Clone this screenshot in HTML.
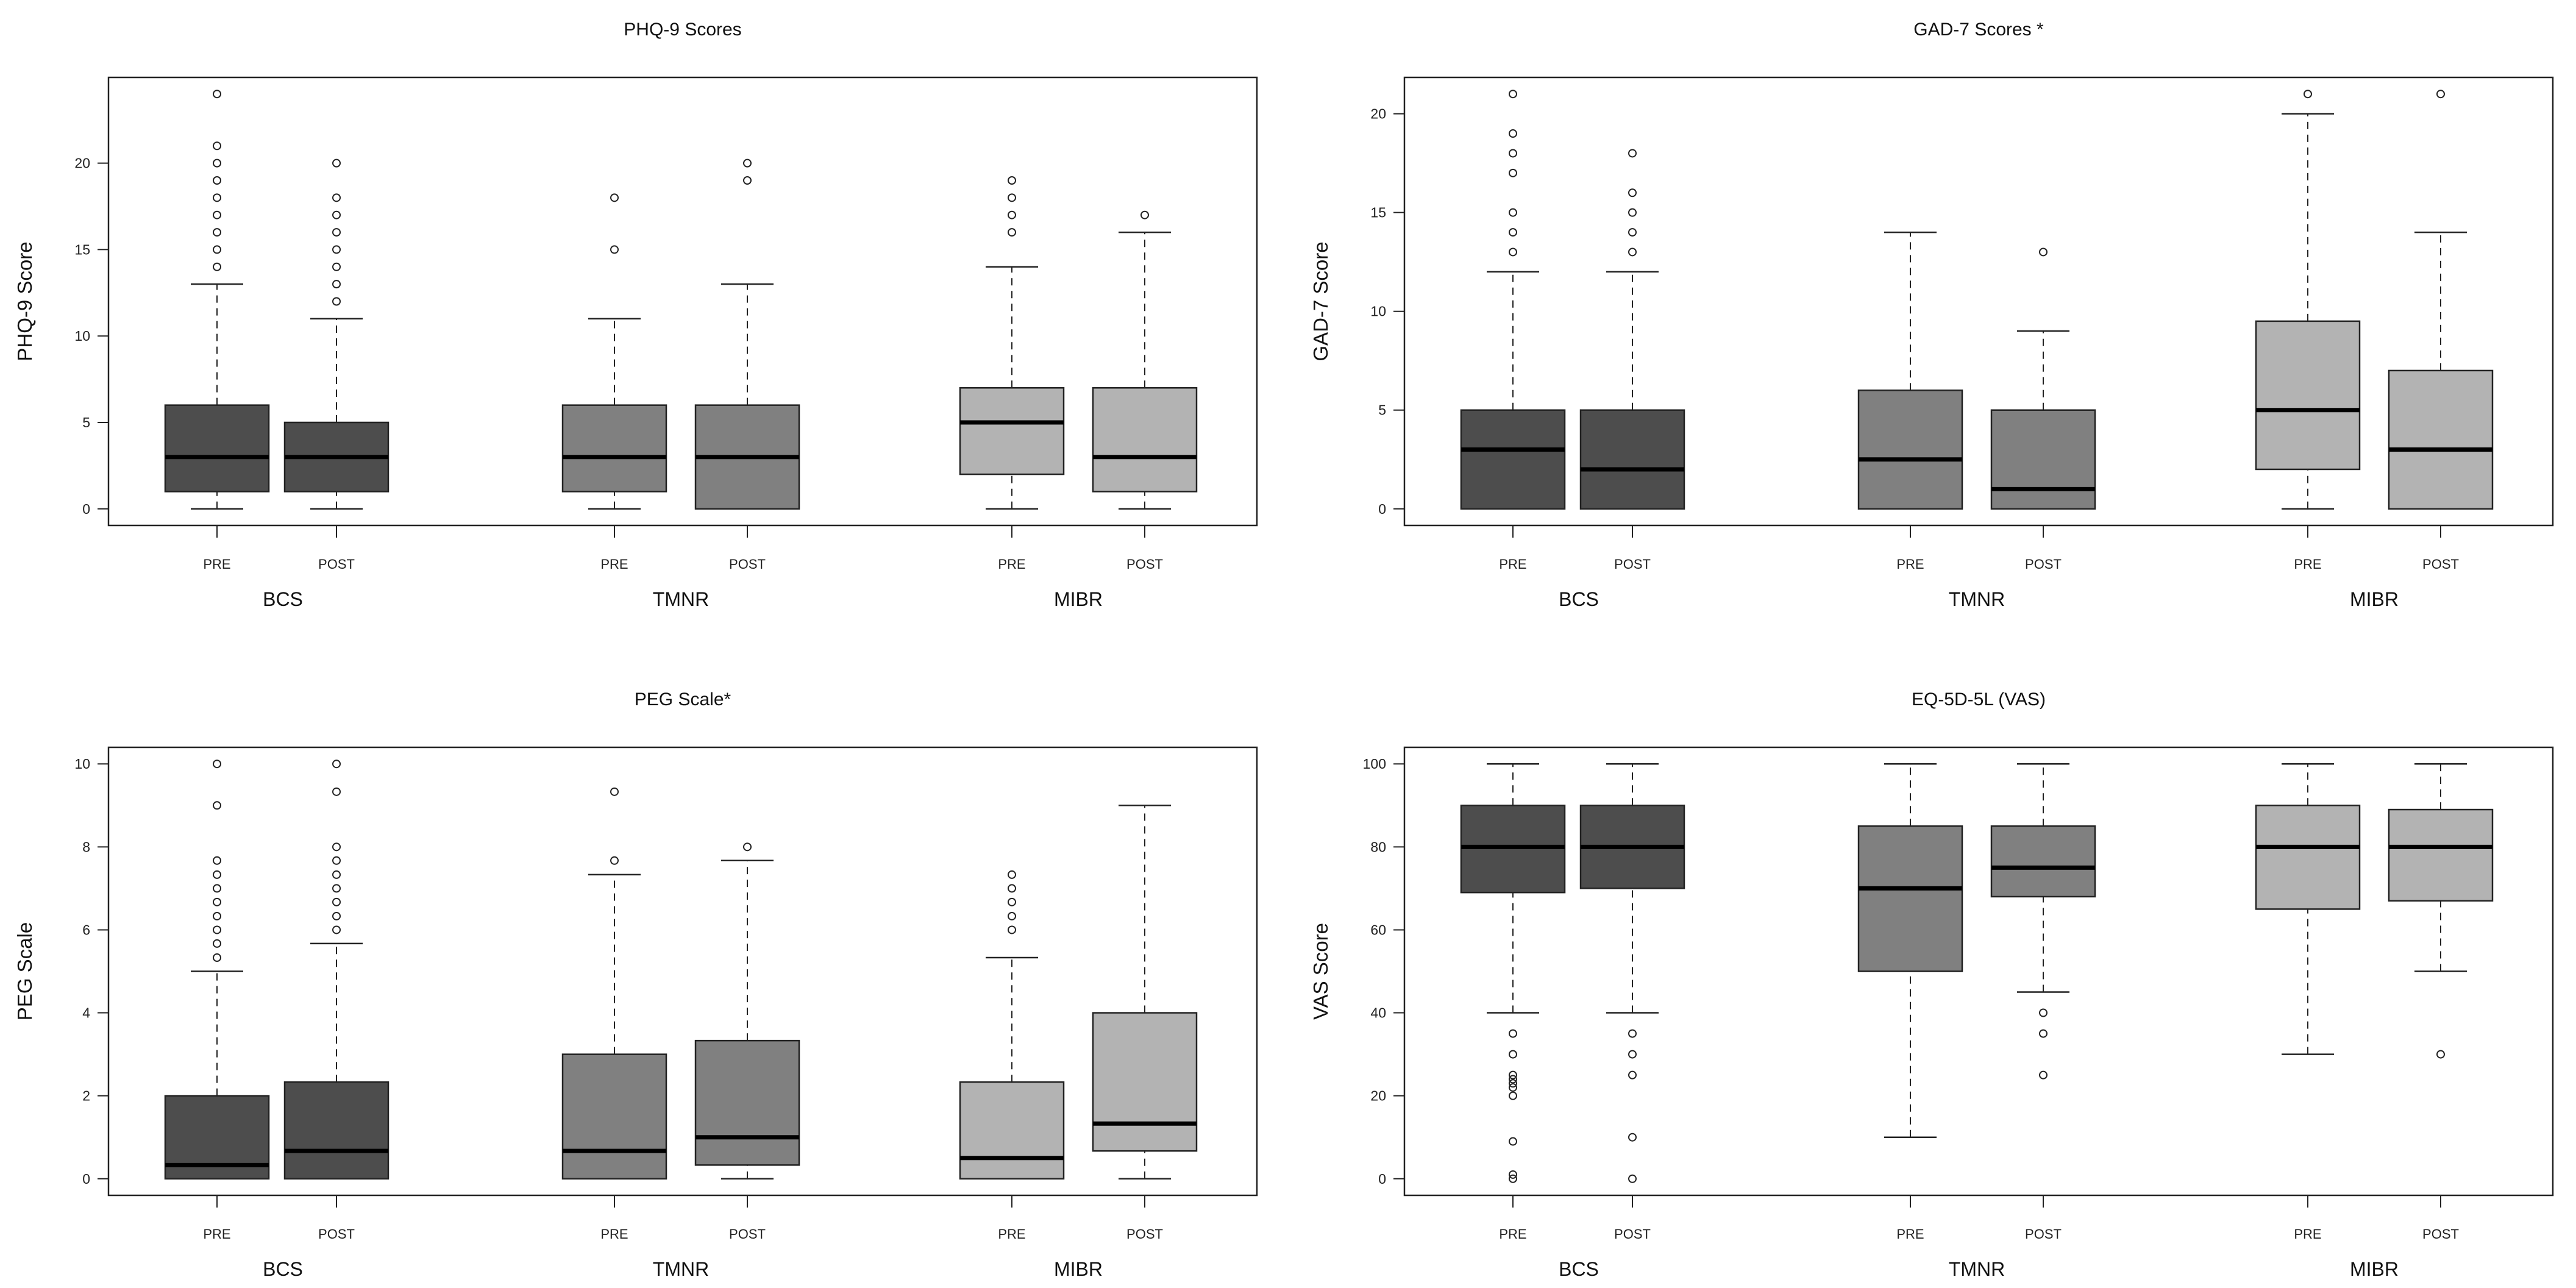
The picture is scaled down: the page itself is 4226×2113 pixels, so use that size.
<!DOCTYPE html>
<html><head><meta charset="utf-8"><style>
html,body{margin:0;padding:0;background:#fff;}
svg{display:block;font-family:"Liberation Sans",sans-serif;}
</style></head><body>
<svg id="chart" width="4226" height="2113" viewBox="0 0 4226 2113" xmlns="http://www.w3.org/2000/svg"></svg>
<script>
const panelTitles = ["PHQ-9 Scores","GAD-7 Scores *","PEG Scale*","EQ-5D-5L (VAS)"];
const yTitles = ["PHQ-9 Score","GAD-7 Score","PEG Scale","VAS Score"];
const groups = ["BCS","TMNR","MIBR"];
const phases = ["PRE","POST"];
const yMins = [0,0,0,0];
const yMaxs = [24,21,10,100];
const yTicks = [[0,5,10,15,20],[0,5,10,15,20],[0,2,4,6,8,10],[0,20,40,60,80,100]];
// each stat: [lowWhisker, q1, median, q3, highWhisker]
const phqStats = [[0,1,3,6,13],[0,1,3,5,11],[0,1,3,6,11],[0,0,3,6,13],[0,2,5,7,14],[0,1,3,7,16]];
const phqOut = [[14,15,16,17,18,19,20,21,24],[12,13,14,15,16,17,18,20],[15,18],[19,20],[16,17,18,19],[17]];
const gadStats = [[0,0,3,5,12],[0,0,2,5,12],[0,0,2.5,6,14],[0,0,1,5,9],[0,2,5,9.5,20],[0,0,3,7,14]];
const gadOut = [[13,14,15,17,18,19,21],[13,14,15,16,18],[],[13],[21],[21]];
const pegStats = [[0,0,0.33,2,5],[0,0,0.67,2.33,5.67],[0,0,0.67,3,7.33],[0,0.33,1,3.33,7.67],[0,0,0.5,2.33,5.33],[0,0.67,1.33,4,9]];
const pegOut = [[5.33,5.67,6,6.33,6.67,7,7.33,7.67,9,10],[6,6.33,6.67,7,7.33,7.67,8,9.33,10],[7.67,9.33],[8],[6,6.33,6.67,7,7.33],[]];
const vasStats = [[40,69,80,90,100],[40,70,80,90,100],[10,50,70,85,100],[45,68,75,85,100],[30,65,80,90,100],[50,67,80,89,100]];
const vasOut = [[35,30,25,24,23,22,20,9,1,0],[35,30,25,10,0],[],[40,35,25],[],[30]];
const allStats = [phqStats,gadStats,pegStats,vasStats];
const allOut = [phqOut,gadOut,pegOut,vasOut];
const fills = ["#4d4d4d","#4d4d4d","#808080","#808080","#b3b3b3","#b3b3b3"];

const NS = "http://www.w3.org/2000/svg";
const svg = document.getElementById("chart");
function mk(tag, attrs, parent, text){
  const e = document.createElementNS(NS, tag);
  for (const k in attrs) e.setAttribute(k, attrs[k]);
  if (text !== undefined) e.textContent = text;
  parent.appendChild(e);
  return e;
}
const offX = [0,2126,0,2126];
const offY = [0,0,1099,1099];
const FL=178, FR=2062, FT=127, FB=862;
const boxX = [178,374,830,1048,1482,1700];
const groupX = [286,939,1591];
const HW=85, CAP=43;

for (let p=0;p<4;p++){
  const g = mk("g",{transform:`translate(${offX[p]},${offY[p]})`},svg);
  
  
  const lo=yMins[p], hi=yMaxs[p];
  const span=hi-lo, dlo=lo-0.04*span, dhi=hi+0.04*span;
  const y = v => FB - (v-dlo)/(dhi-dlo)*(FB-FT);
  const X = x => FL + x;
  const t = mk("text",{x:(FL+FR)/2,y:58,"font-size":30,"text-anchor":"middle",fill:"#111"},g,panelTitles[p]);
  
  
  const yt = mk("text",{x:0,y:0,"font-size":33,"text-anchor":"middle",fill:"#111",transform:`translate(52,${(FT+FB)/2}) rotate(-90)`},g,yTitles[p]);
  
  
  yTicks[p].forEach(v=>{
    const l = mk("line",{x1:FL,x2:FL-18,y1:y(v),y2:y(v),stroke:"#222","stroke-width":2},g);
    
    
    const tl = mk("text",{x:FL-30,y:y(v)+8,"font-size":23,"text-anchor":"end",fill:"#222"},g,String(v));
    
    
  });
  const fr = mk("rect",{x:FL,y:FT,width:FR-FL,height:FB-FT,fill:"none",stroke:"#222","stroke-width":2.5},g);
  
  
  for (let i=0;i<6;i++){
    const s = allStats[p][i], cx = X(boxX[i]);
    const bg = mk("g",{},g);
    
    
    mk("line",{x1:cx,x2:cx,y1:y(s[0]),y2:y(s[1]),stroke:"#222","stroke-width":2,"stroke-dasharray":"12,9"},bg);
    mk("line",{x1:cx,x2:cx,y1:y(s[3]),y2:y(s[4]),stroke:"#222","stroke-width":2,"stroke-dasharray":"12,9"},bg);
    mk("line",{x1:cx-CAP,x2:cx+CAP,y1:y(s[0]),y2:y(s[0]),stroke:"#222","stroke-width":2.5},bg);
    mk("line",{x1:cx-CAP,x2:cx+CAP,y1:y(s[4]),y2:y(s[4]),stroke:"#222","stroke-width":2.5},bg);
    mk("rect",{x:cx-HW,y:y(s[3]),width:2*HW,height:Math.max(0,y(s[1])-y(s[3])),fill:fills[i],stroke:"#222","stroke-width":2.5},bg);
    mk("line",{x1:cx-HW,x2:cx+HW,y1:y(s[2]),y2:y(s[2]),stroke:"#000","stroke-width":7},bg);
    allOut[p][i].forEach(v=>{
      const c = mk("circle",{cx:cx,cy:y(v),r:6,fill:"none",stroke:"#222","stroke-width":2},g);
      
      
    });
    const xt = mk("line",{x1:cx,x2:cx,y1:FB,y2:FB+20,stroke:"#222","stroke-width":2},g);
    
    
    const xl = mk("text",{x:cx,y:933,"font-size":22,"text-anchor":"middle",fill:"#222"},g,phases[i%2]);
    
    
  }
  groups.forEach((gn,k)=>{
    const gl = mk("text",{x:X(groupX[k]),y:994,"font-size":32,"text-anchor":"middle",fill:"#111"},g,gn);
    
    
  });
}
</script>
</body></html>
